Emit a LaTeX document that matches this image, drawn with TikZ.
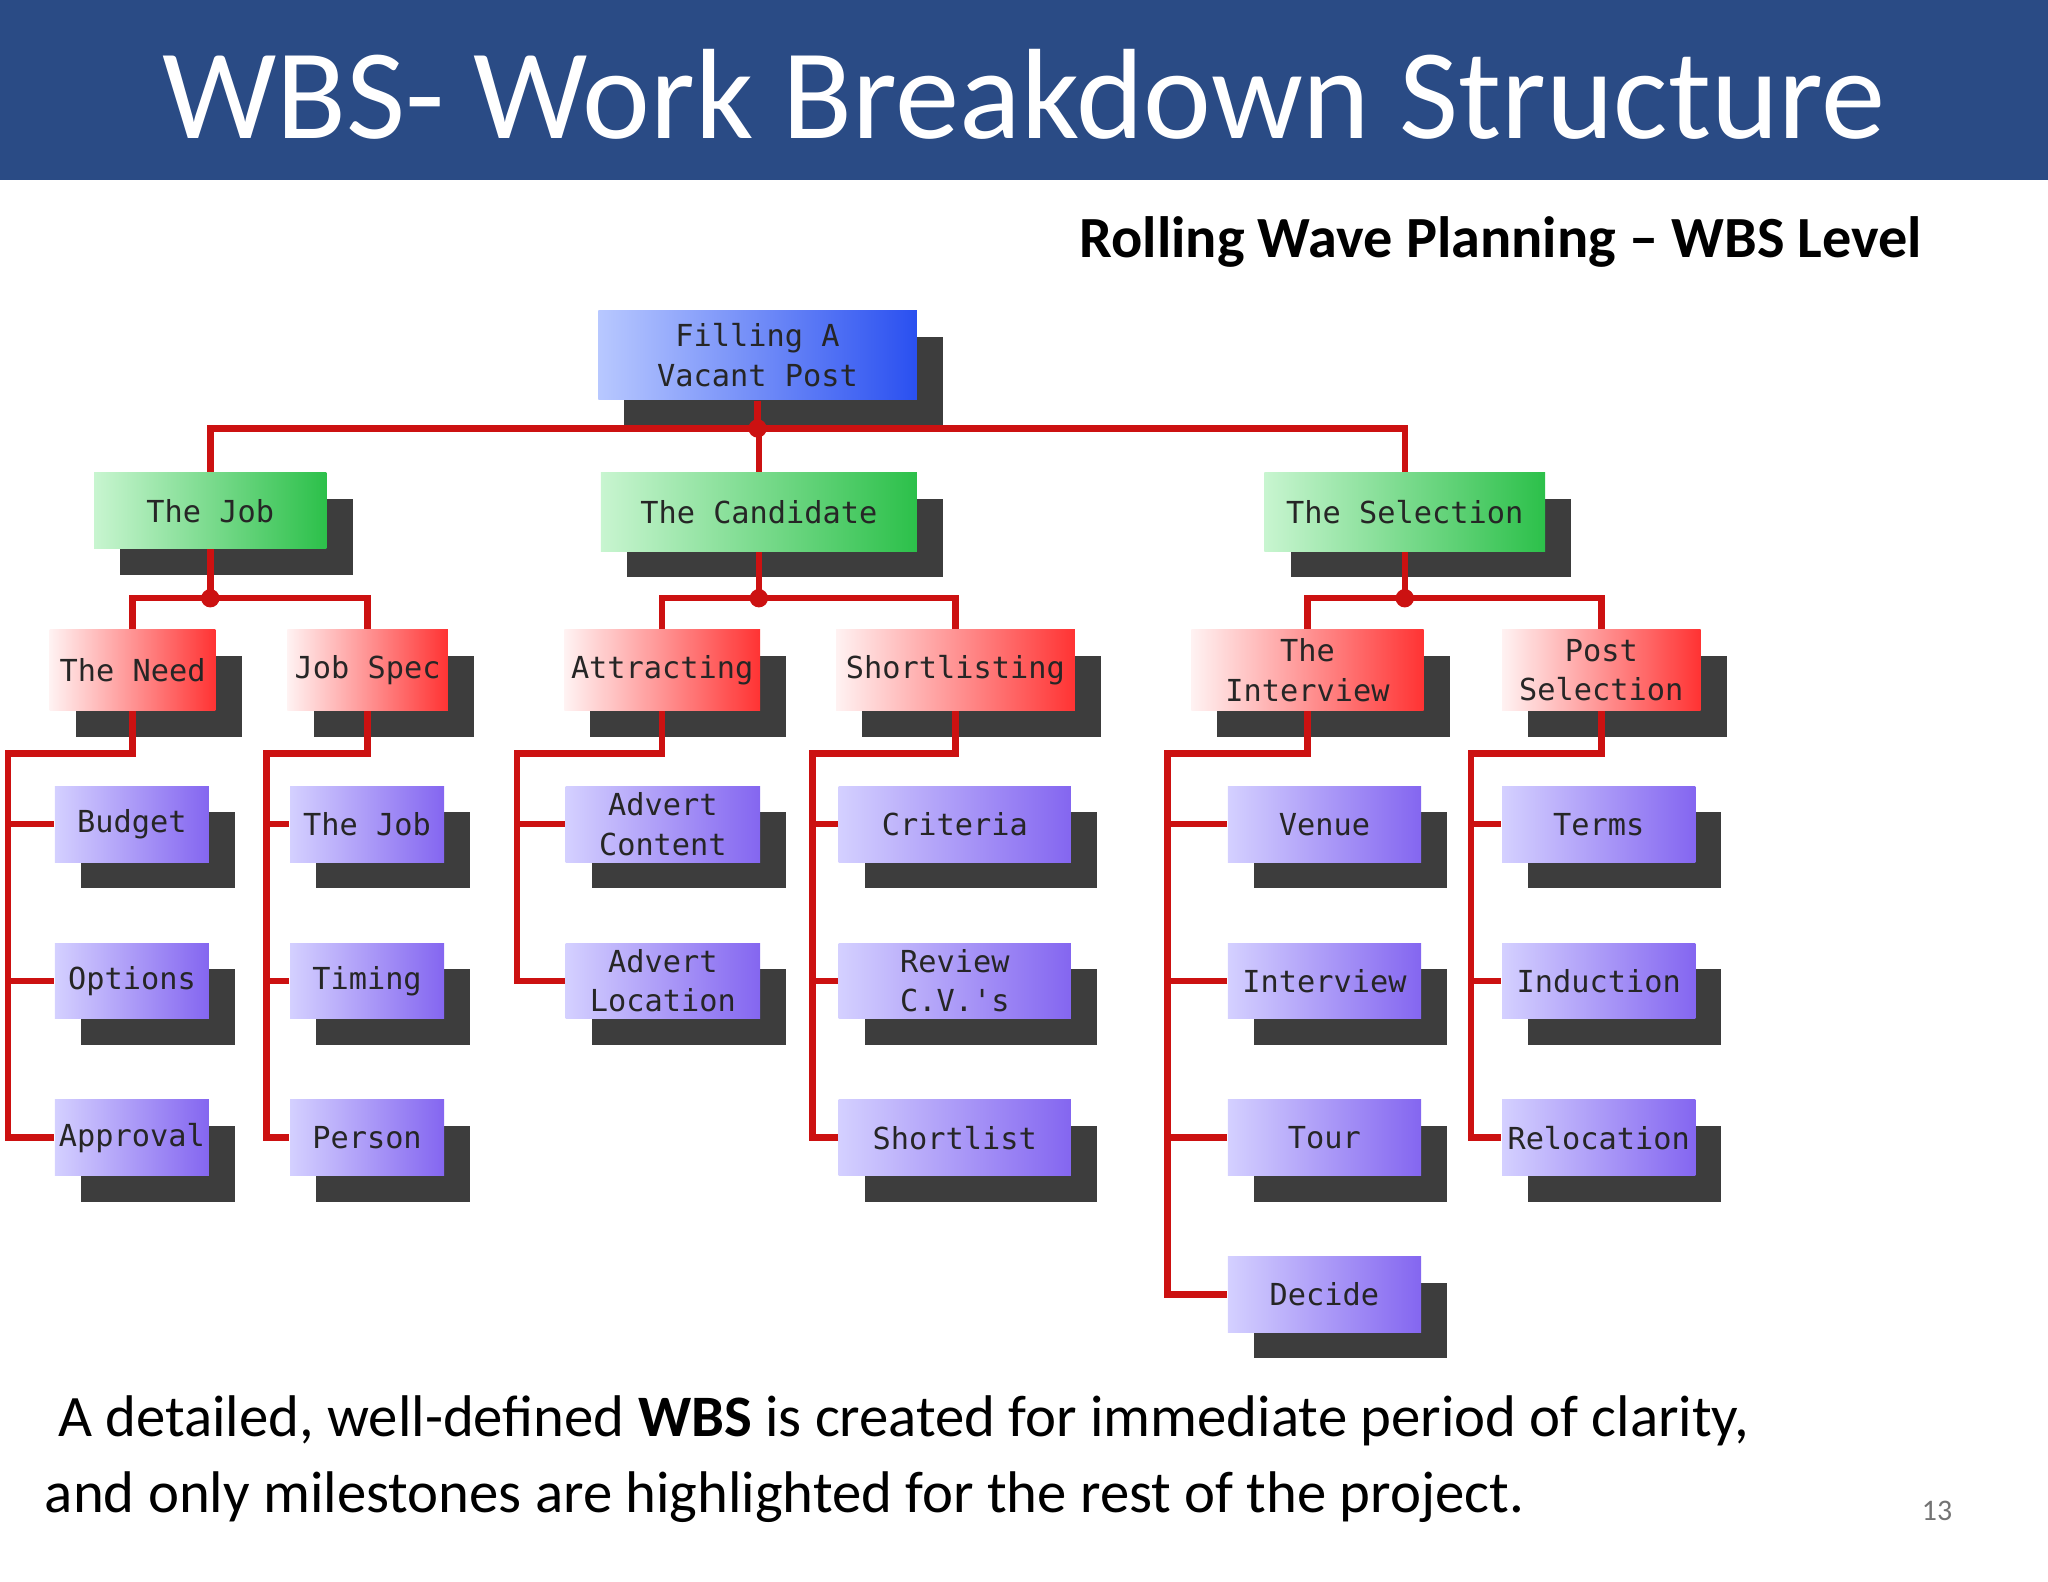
\documentclass[tikz,border=0pt]{standalone}
\usepackage{fontspec}
\setmainfont{Carlito}
\newfontfamily\boxfont{DejaVu Sans Mono}
\usetikzlibrary{shadows}
\definecolor{hdr}{HTML}{2A4B85}
\definecolor{wire}{HTML}{CC1111}
\definecolor{pl}{HTML}{D4D0FF}
\definecolor{pr}{HTML}{8466F0}
\definecolor{gl}{HTML}{C8F5D0}
\definecolor{gr}{HTML}{2CC04A}
\definecolor{bl}{HTML}{B8C8FF}
\definecolor{br}{HTML}{2A50F0}
\tikzset{
 bxbase/.style={inner sep=0pt, align=center, font=\boxfont\fontsize{6.6}{8.6}\selectfont, text=black!85,
   drop shadow={shadow xshift=0.2cm, shadow yshift=-0.2cm, fill=black!80, opacity=0.95}},
 bluebox/.style={bxbase, left color=bl, right color=br},
 greenbox/.style={bxbase, left color=gl, right color=gr},
 redbox/.style={bxbase, left color=red!5!white, right color=red!80},
 purplebox/.style={bxbase, left color=pl, right color=pr},
 wireline/.style={draw=wire, line width=1.4pt},
 dot/.style={circle, fill=wire, inner sep=0pt, minimum size=4pt}
}
\newcommand\bx[7]{\node[#6, minimum width={(#4-#2)*0.01cm}, minimum height={(#5-#3)*0.01cm}] (#1) at ({(#2+#4)/200},{-(#3+#5)/200}) {#7};}
\begin{document}
\begin{tikzpicture}
\useasboundingbox (0,0) rectangle (15.68,-12.11);
\fill[hdr] (0,0) rectangle (15.68,-1.38);
\node[text=white, font=\fontsize{28}{33}\selectfont] (title) at (7.84,-0.72) {WBS- Work Breakdown Structure};
\node[anchor=east, font=\bfseries\fontsize{12.7}{15}\selectfont] (sub) at (14.84,-1.85) {Rolling Wave Planning -- WBS Level};
% boxes
\bx{top}{458}{238}{702}{306}{bluebox}{Filling A\\Vacant Post}
\bx{job}{72}{362}{250}{420}{greenbox}{The Job}
\bx{cand}{460}{362}{702}{422}{greenbox}{The Candidate}
\bx{sel}{968}{362}{1183}{422}{greenbox}{The Selection}
\bx{need}{38}{482}{165}{544}{redbox}{The Need}
\bx{spec}{220}{482}{343}{544}{redbox}{Job Spec}
\bx{attr}{432}{482}{582}{544}{redbox}{Attracting}
\bx{short}{640}{482}{823}{544}{redbox}{Shortlisting}
\bx{intv}{912}{482}{1090}{544}{redbox}{The\\Interview}
\bx{post}{1150}{482}{1302}{544}{redbox}{Post\\Selection}
\bx{budget}{42}{602}{160}{660}{purplebox}{Budget}
\bx{options}{42}{722}{160}{780}{purplebox}{Options}
\bx{approval}{42}{842}{160}{900}{purplebox}{Approval}
\bx{tjob}{222}{602}{340}{660}{purplebox}{The Job}
\bx{timing}{222}{722}{340}{780}{purplebox}{Timing}
\bx{person}{222}{842}{340}{900}{purplebox}{Person}
\bx{adc}{433}{602}{582}{660}{purplebox}{Advert\\Content}
\bx{adl}{433}{722}{582}{780}{purplebox}{Advert\\Location}
\bx{crit}{642}{602}{820}{660}{purplebox}{Criteria}
\bx{review}{642}{722}{820}{780}{purplebox}{Review\\C.V.'s}
\bx{slist}{642}{842}{820}{900}{purplebox}{Shortlist}
\bx{venue}{940}{602}{1088}{660}{purplebox}{Venue}
\bx{interview}{940}{722}{1088}{780}{purplebox}{Interview}
\bx{tour}{940}{842}{1088}{900}{purplebox}{Tour}
\bx{decide}{940}{962}{1088}{1020}{purplebox}{Decide}
\bx{terms}{1150}{602}{1298}{660}{purplebox}{Terms}
\bx{induct}{1150}{722}{1298}{780}{purplebox}{Induction}
\bx{reloc}{1150}{842}{1298}{900}{purplebox}{Relocation}
% level 1
\coordinate (h0) at (top.south |- 0,-3.28);
\draw[wireline] (top.south) -- (h0);
\draw[wireline] (job.north) |- (h0) -| (sel.north);
\draw[wireline] (h0) -| (cand.north);
\node[dot] at (h0) {};
% level 2
\foreach \p/\a/\b/\yy in {job/need/spec/4.58, cand/attr/short/4.58, sel/intv/post/4.58}{
  \coordinate (m) at (\p.south |- 0,-\yy);
  \draw[wireline] (\p.south) -- (m);
  \draw[wireline] (\a.north) |- (m) -| (\b.north);
  \node[dot] at (m) {};
}
% level 3
\foreach \p/\sx/\last/\kids in {need/0.06/approval/{budget,options,approval},
  spec/2.04/person/{tjob,timing,person},
  attr/3.96/adl/{adc,adl},
  short/6.22/slist/{crit,review,slist},
  intv/8.94/decide/{venue,interview,tour,decide},
  post/11.26/reloc/{terms,induct,reloc}}{
  \coordinate (s) at (\sx,-5.77);
  \draw[wireline] (\p.south) -- (\p.south |- s) -- (s) -- (s |- \last.west) -- (\last.west);
  \foreach \k in \kids { \draw[wireline] (s |- \k.west) -- (\k.west); }
}
% bottom text
\node[anchor=west, align=left, font=\fontsize{12.8}{16.5}\selectfont] (foot) at (0.22,-11.17)
 {\ A detailed, well-defined \textbf{WBS} is created for immediate period of clarity,\\and only milestones are highlighted for the rest of the project.};
\node[text=black!55, font=\fontsize{6.5}{8}\selectfont] (pg) at (14.83,-11.57) {13};
\end{tikzpicture}
\end{document}
